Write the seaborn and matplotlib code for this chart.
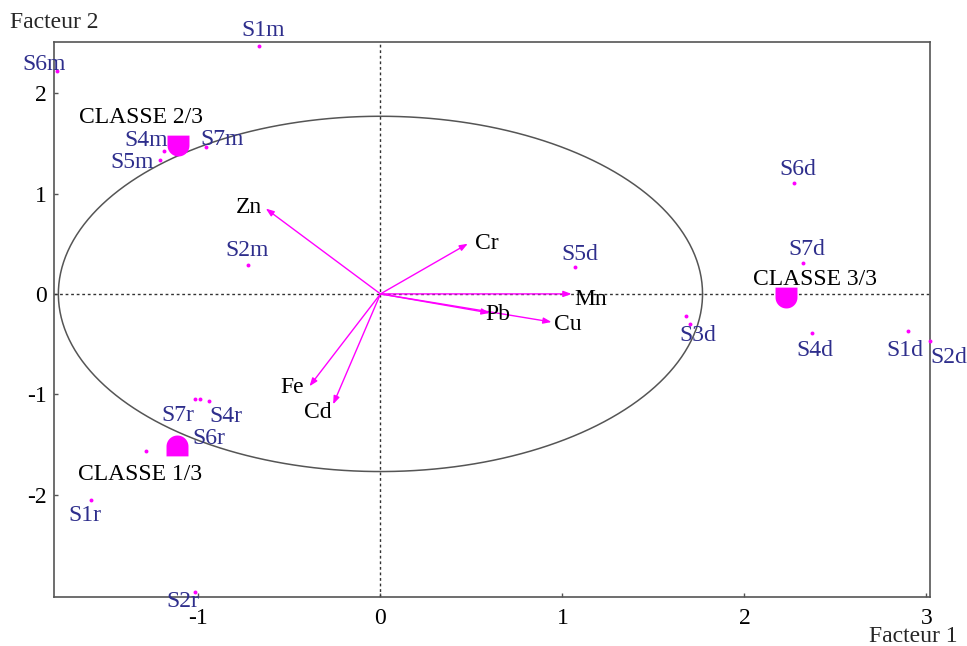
import numpy as np
import pandas as pd
import matplotlib
matplotlib.use("Agg")
import matplotlib.pyplot as plt
from matplotlib.path import Path
import seaborn as sns

# ---- data ----
sample_names = ["S1m", "S6m", "S4m", "S5m", "S7m", "S2m",
                "S5d", "S6d", "S7d", "S3d", "S4d", "S1d", "S2d",
                "S7r", "S4r", "S6r", "S1r", "S2r", "", ""]
sample_x = [-0.67, -1.78, -1.19, -1.21, -0.96, -0.73,
            1.07, 2.27, 2.32, 1.68, 2.37, 2.90, 3.02,
            -1.02, -0.94, -0.99, -1.59, -1.02, -1.29, 1.70]
sample_y = [2.47, 2.22, 1.42, 1.33, 1.46, 0.29,
            0.27, 1.11, 0.31, -0.22, -0.39, -0.37, -0.47,
            -1.05, -1.07, -1.05, -2.05, -2.97, -1.57, -0.30]

var_names = ["Zn", "Cr", "Mn", "Pb", "Cu", "Fe", "Cd"]
var_x = [-0.63, 0.48, 1.05, 0.60, 0.94, -0.39, -0.26]
var_y = [0.85, 0.50, 0.00, -0.19, -0.28, -0.92, -1.10]

class_names = ["CLASSE 1/3", "CLASSE 2/3", "CLASSE 3/3"]
class_x = [-1.12, -1.11, 2.23]
class_y = [-1.52, 1.48, -0.03]

x_ticks = [-1, 0, 1, 2, 3]
y_ticks = [-2, -1, 0, 1, 2]
circle_radius = 1.77

# ---- style ----
sns.set_theme(style="white")
plt.rcParams["font.family"] = ["Liberation Serif", "DejaVu Serif"]
FS = 17
MAG = "#FF00FF"
BLUE = "#2E2E8C"
GRAY = "#555555"

fig = plt.figure(figsize=(9.67, 6.46), dpi=100)
ax = fig.add_axes([54 / 967, 49 / 646, 876 / 967, 555 / 646])
ax.set_xlim(-1.794, 3.02)
ax.set_ylim(-3.02, 2.51)

for s in ax.spines.values():
    s.set_color(GRAY)
    s.set_linewidth(1.2)

ax.set_xticks(x_ticks)
ax.set_yticks(y_ticks)
ax.set_xticklabels([str(t) for t in x_ticks])
ax.set_yticklabels([str(t) for t in y_ticks])
ax.tick_params(axis="both", direction="in", length=3, width=1, color=GRAY,
               labelsize=FS, labelcolor="black", bottom=True, left=True)
ax.tick_params(axis="x", pad=8)
ax.tick_params(axis="y", pad=5)

# dotted axes
ax.axhline(0, color="#333333", lw=1, ls=(0, (2, 2)), zorder=1)
ax.axvline(0, color="#333333", lw=1, ls=(0, (2, 2)), zorder=1)

# correlation circle
th = np.linspace(0, 2 * np.pi, 400)
ax.plot(circle_radius * np.cos(th), circle_radius * np.sin(th), color=GRAY, lw=1.1, zorder=1)

# variable arrows
for n, vx, vy in zip(var_names, var_x, var_y):
    ax.annotate("", xy=(vx, vy), xytext=(0, 0),
                arrowprops=dict(arrowstyle="-|>,head_length=0.4,head_width=0.15",
                                color=MAG, lw=1.0, shrinkA=0, shrinkB=0), zorder=3)

var_offsets = {"Zn": (-3, 1, "right"), "Cr": (5, 0, "left"),
               "Mn": (2, -4, "left"), "Pb": (-3, -1, "left"),
               "Cu": (2, -2, "left"), "Fe": (-4, -1, "right"),
               "Cd": (-1, -6, "right")}
for n, vx, vy in zip(var_names, var_x, var_y):
    dx, dy, ha = var_offsets[n]
    ax.annotate(n, (vx, vy), xytext=(dx, dy), textcoords="offset points",
                ha=ha, va="center", fontsize=FS, color="black", zorder=4)

# sample points
df = pd.DataFrame({"x": sample_x, "y": sample_y, "name": sample_names})
sns.scatterplot(data=df, x="x", y="y", ax=ax, color=MAG, s=8, linewidth=0,
                marker="o", zorder=5, clip_on=False, legend=False)

lab_offsets = {
    "S1m": (3, 11), "S6m": (-9, 4.5), "S4m": (-13, 8),
    "S5m": (-20, -1.3), "S7m": (11.5, 6), "S2m": (-0.7, 10),
    "S5d": (3.6, 8.8), "S6d": (2.9, 9.5), "S7d": (2.9, 9.5),
    "S3d": (8.6, -14), "S4d": (2.2, -12.8), "S1d": (-2.2, -14.2),
    "S2d": (13.7, -12), "S7r": (-12, -11.4), "S4r": (12, -10.6),
    "S6r": (5.8, -28), "S1r": (-4.3, -11.4), "S2r": (-8.6, -7),
}
for n, sx, sy in zip(sample_names, sample_x, sample_y):
    if not n:
        continue
    dx, dy = lab_offsets[n]
    ax.annotate(n, (sx, sy), xytext=(dx, dy), textcoords="offset points",
                ha="center", va="center", fontsize=FS, color=BLUE, zorder=6,
                annotation_clip=False)

# class centroids: half-rounded markers
def half_marker(flat_top=True):
    ang = np.linspace(0, np.pi, 30)
    if flat_top:
        verts = np.vstack([[[-1, 0.9], [1, 0.9], [1, 0]],
                           np.column_stack([np.cos(ang), -np.sin(ang)]), [[-1, 0.9]]])
    else:
        verts = np.vstack([[[1, -0.9], [-1, -0.9], [-1, 0]],
                           np.column_stack([-np.cos(ang), np.sin(ang)]), [[1, -0.9]]])
    return Path(verts, closed=True)

cdf = pd.DataFrame({"x": class_x, "y": class_y, "name": class_names})
sns.scatterplot(data=cdf.iloc[[0]], x="x", y="y", ax=ax, color=MAG, s=250,
                marker=half_marker(False), linewidth=0, zorder=5, legend=False)
sns.scatterplot(data=cdf.iloc[[1, 2]], x="x", y="y", ax=ax, color=MAG, s=250,
                marker=half_marker(True), linewidth=0, zorder=5, legend=False)

class_offsets = {"CLASSE 1/3": (-26, -20), "CLASSE 2/3": (-27, 20), "CLASSE 3/3": (21, 12.4)}
for n, cx, cy in zip(class_names, class_x, class_y):
    dx, dy = class_offsets[n]
    ax.annotate(n, (cx, cy), xytext=(dx, dy), textcoords="offset points",
                ha="center", va="center", fontsize=FS, color="black", zorder=6)

ax.set_xlabel("")
ax.set_ylabel("")
fig.text(10 / 967, 1 - 22 / 646, "Facteur 2", fontsize=FS, ha="left", va="center")
fig.text(958 / 967, 1 - 637 / 646, "Facteur 1", fontsize=FS, ha="right", va="center")

fig.savefig("out.png", dpi=100, facecolor="white")
